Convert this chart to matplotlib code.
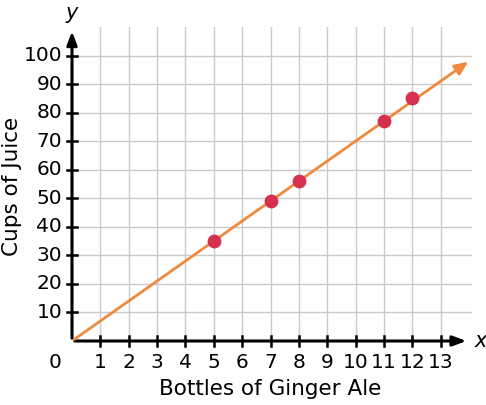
import numpy as np
import matplotlib.pyplot as plt

# data
bottles = [5, 7, 8, 11, 12]
cups = [35, 49, 56, 77, 85]
line_x = [0, 14.05]
line_y = [0, 98.4]
x_ticks = list(range(1, 14))
y_ticks = list(range(10, 101, 10))

plt.rcParams['font.family'] = ['DejaVu Sans']

W, H = 486, 405
fig = plt.figure(figsize=(W/100, H/100), dpi=100)
# axes placed so that origin sits at (72, 341) px
x0, y0, x1, y1 = 72, 341, 472, 27
ax = fig.add_axes([x0/W, 1-y0/H, (x1-x0)/W, (y0-y1)/H])
ax.set_xlim(0, 14.1)
ax.set_ylim(0, 110)
for s in ax.spines.values():
    s.set_visible(False)
ax.set_xticks([])
ax.set_yticks([])

# grid
for xv in x_ticks:
    ax.plot([xv, xv], [0, 110], color="#cacaca", lw=1, zorder=1)
for yv in y_ticks:
    ax.plot([0, 14.1], [yv, yv], color="#cacaca", lw=1, zorder=1)

# axes with arrows
ax.annotate("", xy=(14.0, 0), xytext=(0, 0),
            arrowprops=dict(arrowstyle="-|>,head_length=0.8,head_width=0.3", color="black", lw=2.2),
            annotation_clip=False, zorder=3)
ax.annotate("", xy=(0, 109.5), xytext=(0, 0),
            arrowprops=dict(arrowstyle="-|>,head_length=0.8,head_width=0.3", color="black", lw=2.2),
            annotation_clip=False, zorder=3)

# tick marks and labels
dx = 5/28.4
dy = 5/2.85
for xv in x_ticks:
    ax.plot([xv, xv], [-dy, dy], color="black", lw=1.8, clip_on=False, zorder=3)
    ax.text(xv, -7.4, str(xv), ha="center", va="center", fontsize=14.5)
for yv in y_ticks:
    ax.plot([-dx, dx], [yv, yv], color="black", lw=1.8, clip_on=False, zorder=3)
    ax.text(-0.35, yv, str(yv), ha="right", va="center", fontsize=14.5)
ax.text(-0.6, -7.4, "0", ha="center", va="center", fontsize=14.5)

# line and points
ax.annotate("", xy=(line_x[1], line_y[1]), xytext=(line_x[0], line_y[0]),
            arrowprops=dict(arrowstyle="-|>,head_length=0.8,head_width=0.35", color="#ef8a3c", lw=2),
            annotation_clip=False, zorder=4)
ax.scatter(bottles, cups, s=80, color="#d6304f", zorder=5)

ax.text(14.4, 0, "x", ha="center", va="center", fontsize=15, style="italic")
ax.text(0, 115, "y", ha="center", va="center", fontsize=15, style="italic")

fig.text(270/W, 1-389/H, "Bottles of Ginger Ale", ha="center", va="center", fontsize=15.5)
fig.text(12/W, 1-186/H, "Cups of Juice", ha="center", va="center", fontsize=15.5, rotation=90)

fig.savefig("out.png", dpi=100)
